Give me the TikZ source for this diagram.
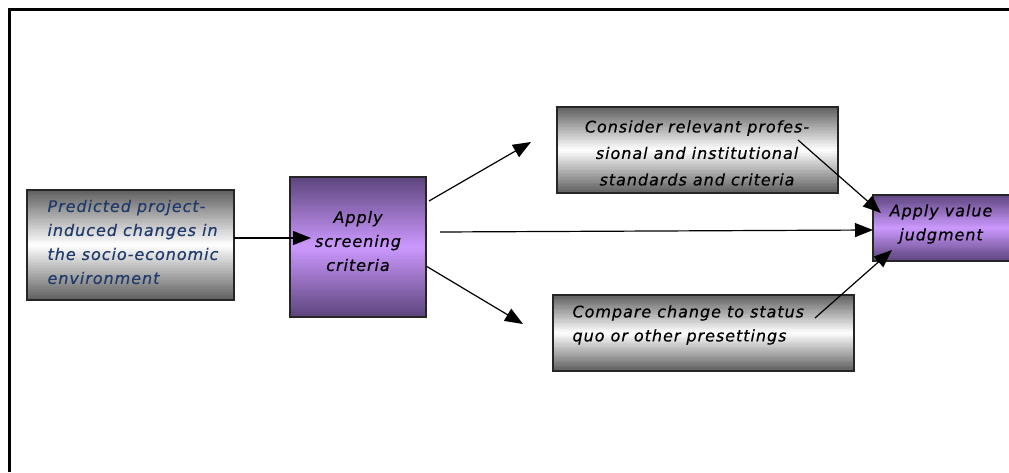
\documentclass[tikz,border=0pt]{standalone}
\usepackage{fontspec}
\setmainfont{DejaVu Sans}[LetterSpace=6, ItalicFeatures={FakeBold=0.4}]
\usetikzlibrary{arrows.meta}
\definecolor{gdark}{HTML}{5E5E5E}
\definecolor{glight}{HTML}{FFFFFF}
\definecolor{pdark}{HTML}{5C447C}
\definecolor{plight}{HTML}{CC99FF}
\definecolor{txtblue}{HTML}{1F3A6B}
\tikzset{
  boxframe/.style={draw=black!85, line width=1.3pt, inner sep=0pt, outer sep=0pt},
  lbl/.style={font=\fontsize{16}{24}\selectfont\itshape, text=black},
  conn/.style={line width=1.2pt, -{Triangle[length=18pt,width=14pt]}}
}
% gradient fill: #1 dark, #2 light, #3 x0, #4 y0, #5 x1, #6 y1
\newcommand{\gradfill}[6]{%
  \foreach \i in {0,...,59}{%
    \pgfmathsetmacro{\f}{100*abs(2*(\i+0.5)/60-1)}%
    \pgfmathsetmacro{\ya}{#4+(#6-#4)*\i/60}%
    \pgfmathsetmacro{\yb}{#4+(#6-#4)*(\i+1)/60+0.3}%
    \fill[#1!\f!#2] (#3,\ya) rectangle (#5,\yb);
  }%
}
\begin{document}
\begin{tikzpicture}[x=1pt,y=1pt]
\useasboundingbox (0,0) rectangle (1009,472);
% frame
\draw[line width=3pt] (9,0) -- (9,462) -- (1012,462);
% gradient fills
\gradfill{gdark}{glight}{27}{172}{234}{282}
\gradfill{pdark}{plight}{290}{155}{426}{295}
\gradfill{gdark}{glight}{557}{279}{838}{365}
\gradfill{gdark}{glight}{553}{101}{854}{177}
\gradfill{pdark}{plight}{873}{211}{1013}{277}
% boxes (y = 472 - pixel y)
\node[boxframe, minimum width=207pt, minimum height=110pt] (b1) at (130.5,227) {};
\node[boxframe, minimum width=136pt, minimum height=140pt] (b2) at (358,225) {};
\node[boxframe, minimum width=281pt, minimum height=86pt] (b3) at (697.5,322) {};
\node[boxframe, minimum width=301pt, minimum height=76pt] (b4) at (703.5,139) {};
\node[boxframe, minimum width=140pt, minimum height=66pt] (b5) at (943,244) {};
% texts
\node[lbl, text=txtblue, align=left, anchor=west] (t1) at (44,230) {Predicted project-\\induced changes in\\the socio-economic\\environment};
\node[lbl, align=center] (t2) at (358,231) {Apply\\screening\\criteria};
\node[lbl, align=center, font=\fontsize{16}{26.5}\selectfont\itshape] (t3) at (697,319) {Consider relevant profes-\\sional and institutional\\standards and criteria};
\node[lbl, align=left, anchor=west] (t4) at (569,147) {Compare change to status\\quo or other presettings};
\node[lbl, align=center] (t5) at (941,248) {Apply value\\judgment};
% connector end points
\coordinate (e1) at (311,234);
\coordinate (s2) at (429,271);
\coordinate (e2) at (531,330);
\coordinate (s3) at (440,240);
\coordinate (s4) at (426,206);
\coordinate (e4) at (523,148);
\coordinate (s5) at (798,332);
\coordinate (e5) at (881,259);
\coordinate (s6) at (815,154);
\coordinate (e6) at (892,222);
% connectors
\draw[conn] (b1.east |- e1) -- (e1);
\draw[conn] (s2) -- (e2);
\draw[conn] (s3) -- (b5.west |- 0,242);
\draw[conn] (s4) -- (e4);
\draw[conn] (s5) -- (e5);
\draw[conn] (s6) -- (e6);
\end{tikzpicture}
\end{document}
